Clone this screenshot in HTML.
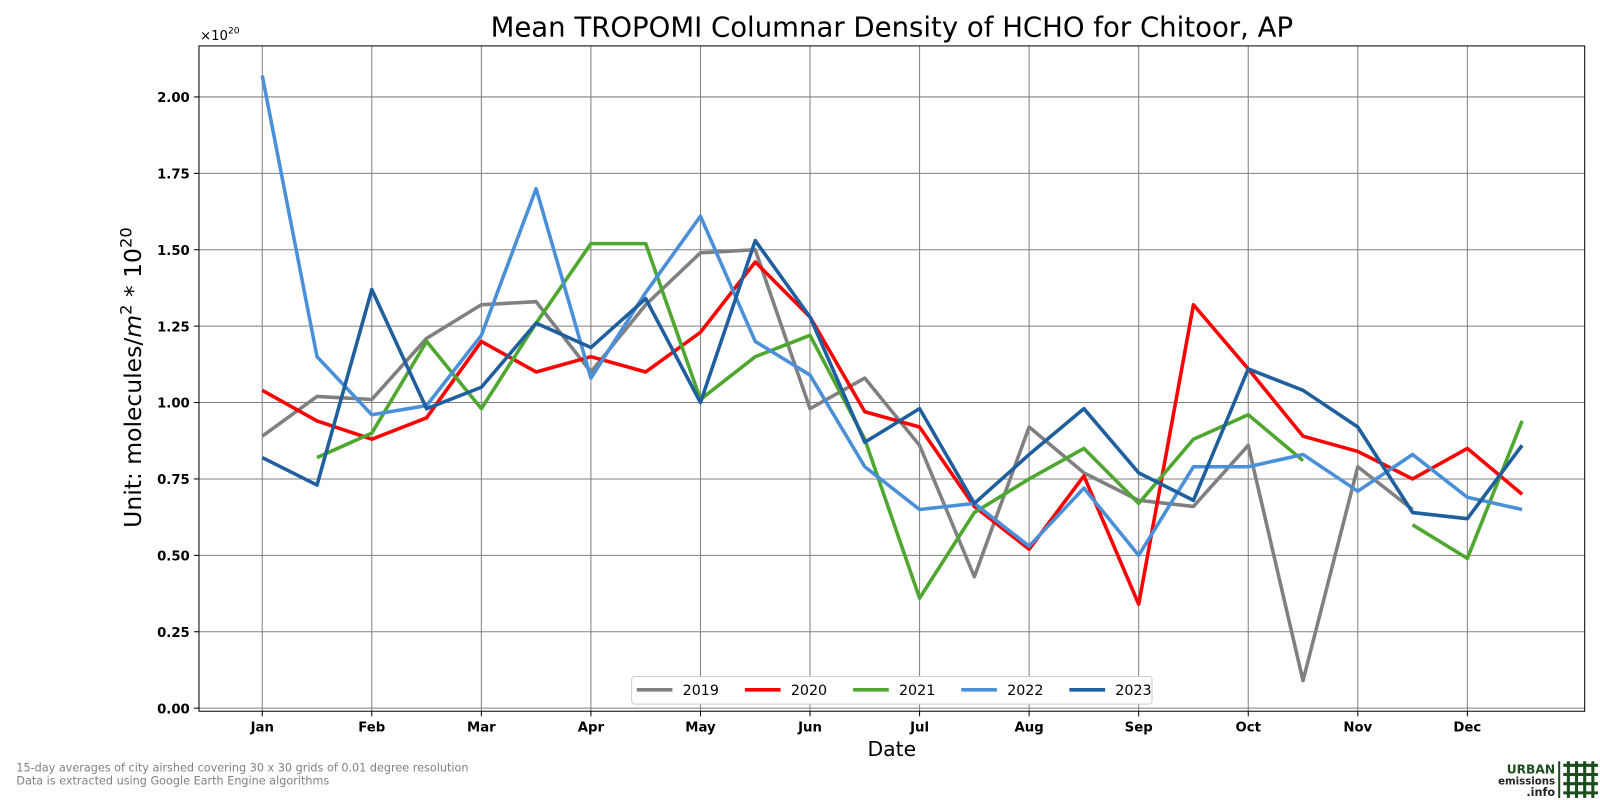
<!DOCTYPE html>
<html><head><meta charset="utf-8"><style>
html,body{margin:0;padding:0;background:#fff;overflow:hidden;width:1600px;height:800px;font-family:"Liberation Sans",sans-serif}
svg{display:block}
svg text{font-family:"DejaVu Sans","Liberation Sans",sans-serif}
</style></head><body>
<svg id="c" width="1600" height="800" viewBox="0 0 1568 784" preserveAspectRatio="none" xmlns="http://www.w3.org/2000/svg"></svg>
<script>
const months=["Jan","Feb","Mar","Apr","May","Jun","Jul","Aug","Sep","Oct","Nov","Dec"];
const yTicks=[0,0.25,0.5,0.75,1.0,1.25,1.5,1.75,2.0];
const years=["2019","2020","2021","2022","2023"];
const colors=["#808080","#ff0000","#4ea72e","#4a90d9","#1f5f9e"];
const s2019=[0.89,1.02,1.01,1.21,1.32,1.33,1.10,1.32,1.49,1.50,0.98,1.08,0.86,0.43,0.92,0.77,0.68,0.66,0.86,0.09,0.79,0.65,null,null];
const s2020=[1.04,0.94,0.88,0.95,1.20,1.10,1.15,1.10,1.23,1.46,1.28,0.97,0.92,0.66,0.52,0.76,0.34,1.32,1.11,0.89,0.84,0.75,0.85,0.70];
const s2021=[null,0.82,0.90,1.20,0.98,1.26,1.52,1.52,1.01,1.15,1.22,0.88,0.36,0.64,0.75,0.85,0.67,0.88,0.96,0.81,null,0.60,0.49,0.94];
const s2022=[2.07,1.15,0.96,0.99,1.22,1.70,1.08,1.36,1.61,1.20,1.09,0.79,0.65,0.67,0.53,0.72,0.50,0.79,0.79,0.83,0.71,0.83,0.69,0.65];
const s2023=[0.82,0.73,1.37,0.98,1.05,1.26,1.18,1.34,1.00,1.53,1.28,0.87,0.98,0.67,0.83,0.98,0.77,0.68,1.11,1.04,0.92,0.64,0.62,0.86];
const series=[s2019,s2020,s2021,s2022,s2023];
const NS="http://www.w3.org/2000/svg",svg=document.getElementById('c');
function mk(t,a,txt){const e=document.createElementNS(NS,t);for(const k in a)e.setAttribute(k,a[k]);if(txt!=null)e.textContent=txt;svg.appendChild(e);return e;}
const L=195,R=1553,T=45,B=697;
const xs=i=>257+i*(1438-257)/22;
const ys=v=>694-v*299.5;
for(let i=0;i<months.length;i++){const x=xs(i*2);
 let g=mk('line',{x1:x,x2:x,y1:T,y2:B,stroke:'#808080','stroke-width':1});
 
 mk('line',{x1:x,x2:x,y1:B,y2:B+5,stroke:'#000'});
 let t=mk('text',{x:x,y:717,'text-anchor':'middle','font-size':13,'font-weight':'bold'},months[i]);
 }
for(const v of yTicks){const y=ys(v);
 let g=mk('line',{x1:L,x2:R,y1:y,y2:y,stroke:'#808080','stroke-width':1});
 
 mk('line',{x1:L-5,x2:L,y1:y,y2:y,stroke:'#000'});
 let t=mk('text',{x:L-9,y:y+5,'text-anchor':'end','font-size':13,'font-weight':'bold'},v.toFixed(2));
 }
let fr=mk('rect',{x:L,y:T,width:R-L,height:B-T,fill:'none',stroke:'#000'});

series.forEach((s,k)=>{let d='',pen=false;s.forEach((v,i)=>{if(v==null){pen=false;return;}d+=(pen?'L':'M')+xs(i)+' '+ys(v)+' ';pen=true;});
 let p=mk('path',{d:d,fill:'none',stroke:colors[k],'stroke-width':3.5,'stroke-linejoin':'round'});
 });
let lg=mk('rect',{x:619,y:663,width:510,height:27,fill:'#fff',stroke:'#ccc',rx:3});

years.forEach((y,k)=>{const x0=624+k*106;
 mk('line',{x1:x0,x2:x0+35,y1:676,y2:676,stroke:colors[k],'stroke-width':3.5});
 let t=mk('text',{x:x0+45,y:681,'font-size':14},y);
 });
let ti=mk('text',{x:874,y:36,'text-anchor':'middle','font-size':27},'Mean TROPOMI Columnar Density of HCHO for Chitoor, AP');

let xt=mk('text',{x:874,y:741,'text-anchor':'middle','font-size':20},'Date');

let yt=mk('text',{x:0,y:0,'text-anchor':'middle','font-size':23,transform:'translate(138,370) rotate(-90)'});
yt.innerHTML='Unit: molecules/<tspan font-style="italic">m</tspan><tspan dy="-9" font-size="16">2</tspan><tspan dy="9"> * 10</tspan><tspan dy="-9" font-size="16">20</tspan>';

let ex=mk('text',{x:196,y:39,'font-size':13});ex.innerHTML='×10<tspan dy="-6" font-size="9">20</tspan>';

let f1=mk('text',{x:16,y:756,'font-size':11,fill:'#808080'},'15-day averages of city airshed covering 30 x 30 grids of 0.01 degree resolution');

let f2=mk('text',{x:16,y:769,'font-size':11,fill:'#808080'},'Data is extracted using Google Earth Engine algorithms');

let l1=mk('text',{x:1524,y:758,'text-anchor':'end','font-size':12,'font-weight':'bold',fill:'#1d4d1d'},'URBAN');

mk('text',{x:1524,y:769,'text-anchor':'end','font-size':10,'font-weight':'bold',fill:'#222'},'emissions');
mk('text',{x:1524,y:780,'text-anchor':'end','font-size':11,'font-weight':'bold',fill:'#222'},'.info');
mk('line',{x1:1528,x2:1528,y1:746,y2:782,stroke:'#1d4d1d','stroke-width':2});
for(let i=0;i<4;i++){mk('line',{x1:1537+i*8,x2:1537+i*8,y1:746,y2:782,stroke:'#1d4d1d','stroke-width':3});
 mk('line',{x1:1532,x2:1566,y1:750+i*9,y2:750+i*9,stroke:'#1d4d1d','stroke-width':3});}
</script></body></html>
